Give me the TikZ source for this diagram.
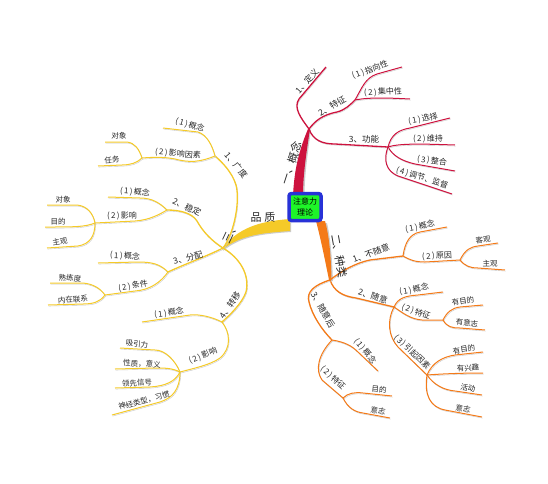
\documentclass[tikz,border=0pt]{standalone}
\usepackage{fontspec}
\setmainfont{Noto Sans CJK SC}
\usetikzlibrary{calc}
\definecolor{rc}{RGB}{205,18,62}
\definecolor{oc}{RGB}{244,122,24}
\definecolor{yc}{RGB}{245,202,40}
\definecolor{boxg}{RGB}{30,245,40}
\definecolor{boxb}{RGB}{40,50,215}
\newcommand{\pn}[1]{(\,#1\,)\,}
\begin{document}
\begin{tikzpicture}[x=1pt,y=-1pt,
  shd/.style={preaction={draw=black!22,transform canvas={shift={(0.7pt,-1.1pt)}}}},
  rb/.style={draw=rc,line width=1.3pt,shd},
  rl/.style={draw=rc,line width=1pt,shd},
  ob/.style={draw=oc,line width=1.3pt,shd},
  ol/.style={draw=oc,line width=1pt,shd},
  yb/.style={draw=yc,line width=1.3pt,shd},
  yl/.style={draw=yc,line width=1pt,shd},
  lab/.style={inner sep=0pt,text=black!85},
  l1/.style={lab,font=\fontsize{11}{12}\selectfont},
  l2/.style={lab,font=\fontsize{8.5}{9}\selectfont},
  l3/.style={lab,font=\fontsize{8}{9}\selectfont},
  l4/.style={lab,font=\fontsize{7.5}{8}\selectfont}]
\useasboundingbox[fill=white] (0,0) rectangle (548,483);

% ---------- coordinates ----------
\coordinate (R0) at (309,129);
\coordinate (r1) at (326,67);
\coordinate (R2) at (355,100);
\coordinate (r21) at (402,67);
\coordinate (r22) at (410,99);
\coordinate (R3) at (388,147);
\coordinate (r31) at (450,118);
\coordinate (r32) at (455,145);
\coordinate (r33) at (455,171);
\coordinate (r34) at (452,194);

\coordinate (O0) at (330,280);
\coordinate (O1) at (403,256);
\coordinate (o11) at (447,227);
\coordinate (O12) at (460,260);
\coordinate (o121) at (498,243);
\coordinate (o122) at (505,270);
\coordinate (O2) at (394,307);
\coordinate (o21) at (443,292);
\coordinate (O22) at (443,320);
\coordinate (o221) at (483,305);
\coordinate (o222) at (485,330);
\coordinate (O23) at (427,375);
\coordinate (o231) at (483,352);
\coordinate (o232) at (483,373);
\coordinate (o233) at (482,395);
\coordinate (o234) at (482,417);
\coordinate (O3) at (332,340);
\coordinate (o31) at (378,371);
\coordinate (O32) at (343,398);
\coordinate (o321) at (392,396);
\coordinate (o322) at (390,418);

\coordinate (Y0) at (223,248);
\coordinate (Y1) at (215,156);
\coordinate (y11) at (163,128);
\coordinate (Y12) at (142,158);
\coordinate (y121) at (105,142);
\coordinate (y122) at (98,166);
\coordinate (Y2) at (167,210);
\coordinate (y21) at (108,197);
\coordinate (Y22) at (95,223);
\coordinate (y221) at (47,205);
\coordinate (y222) at (45,227);
\coordinate (y223) at (47,248);
\coordinate (Y3) at (168,272);
\coordinate (y31) at (98,263);
\coordinate (Y32) at (105,295);
\coordinate (y321) at (50,283);
\coordinate (y322) at (48,305);
\coordinate (Y4) at (222,322);
\coordinate (y41) at (142,322);
\coordinate (Y42) at (180,372);
\coordinate (y421) at (120,348);
\coordinate (y422) at (115,369);
\coordinate (y423) at (115,388);
\coordinate (y424) at (112,415);

% ---------- thick stems ----------
\fill[black!20] (294.5,197) .. controls (295.5,175) and (298.5,155) .. ($(R0)+(0,1)$) -- ($(R0)+(2,1)$) .. controls (307.5,155) and (304.5,175) .. (304.5,197) -- cycle;
\fill[rc] (293,196) .. controls (294,175) and (297,155) .. ($(R0)+(-1,0)$) -- ($(R0)+(1,0)$) .. controls (306,155) and (303,175) .. (303,196) -- cycle;
\fill[black!20] (318,223) .. controls (322,240) and (326,260) .. ($(O0)+(0,1)$) -- ($(O0)+(3,1)$) .. controls (332,255) and (330,235) .. (327,223) -- cycle;
\fill[oc] (316,221) .. controls (321,240) and (325,260) .. ($(O0)+(-1,0)$) -- ($(O0)+(1.5,0)$) .. controls (331,255) and (329,235) .. (325,221) -- cycle;
\fill[black!20] (291,220) .. controls (266,222) and (243,226) .. ($(Y0)+(2,-1)$) -- ($(Y0)+(0,3)$) .. controls (241,236) and (263,234) .. (291,232) -- cycle;
\fill[yc] (290,219) .. controls (265,221) and (242,225) .. ($(Y0)+(1,-2)$) -- ($(Y0)+(-1,2)$) .. controls (240,235) and (262,233) .. (290,231) -- cycle;

% ---------- red branches ----------
\draw[rb] (R0) .. controls (301,118) and (293,108) .. (299,99) -- (r1);
\draw[rb] (R0) .. controls (315,121) and (322,115) .. (337,112) .. controls (345,110) and (350,105) .. (R2);
\draw[rl] (R2) .. controls (362,88) and (365,78) .. (377,74) -- (r21);
\draw[rl] (R2) .. controls (370,97) and (390,98) .. (r22);
\draw[rb] (R0) .. controls (313,140) and (322,144) .. (335,144) -- (R3);
\draw[rl] (R3) .. controls (391,135) and (398,130) .. (410,128) -- (r31);
\draw[rl] (R3) .. controls (400,143) and (425,144) .. (r32);
\draw[rl] (R3) .. controls (393,156) and (402,161) .. (415,164) -- (r33);
\draw[rl] (R3) .. controls (383,160) and (386,171) .. (398,176) -- (r34);

% ---------- orange branches ----------
\draw[ob] (O0) .. controls (340,272) and (355,263) .. (370,260) -- (O1);
\draw[ol] (O1) .. controls (405,242) and (410,234) .. (420,232) -- (o11);
\draw[ol] (O1) .. controls (410,260) and (415,262) .. (425,262) -- (O12);
\draw[ol] (O12) .. controls (465,250) and (470,247) .. (478,246) -- (o121);
\draw[ol] (O12) .. controls (465,266) and (470,268) .. (478,268) -- (o122);
\draw[ob] (O0) .. controls (334,291) and (342,296) .. (356,298) -- (O2);
\draw[ol] (O2) .. controls (398,298) and (405,296) .. (418,295) -- (o21);
\draw[ol] (O2) .. controls (403,313) and (410,319) .. (422,320) -- (O22);
\draw[ol] (O22) .. controls (447,312) and (452,308) .. (460,307) -- (o221);
\draw[ol] (O22) .. controls (447,327) and (452,328) .. (460,328) -- (o222);
\draw[ol] (O2) .. controls (387,320) and (388,336) .. (398,347) -- (O23);
\draw[ol] (O23) .. controls (432,363) and (442,357) .. (455,355) -- (o231);
\draw[ol] (O23) .. controls (440,374) and (460,373) .. (o232);
\draw[ol] (O23) .. controls (434,385) and (444,390) .. (455,391) -- (o233);
\draw[ol] (O23) .. controls (424,395) and (430,407) .. (445,410) -- (o234);
\draw[ob] (O0) .. controls (314,285) and (306,292) .. (309,302) .. controls (312,315) and (322,330) .. (O3);
\draw[ol] (O3) .. controls (345,342) and (352,346) .. (358,352) -- (o31);
\draw[ol] (O3) .. controls (318,355) and (315,370) .. (322,380) -- (O32);
\draw[ol] (O32) .. controls (348,393) and (355,392) .. (363,393) -- (o321);
\draw[ol] (O32) .. controls (348,408) and (355,412) .. (363,413) -- (o322);

% ---------- yellow branches ----------
\draw[yb] (Y0) .. controls (235,232) and (240,200) .. (236,185) .. controls (232,172) and (222,162) .. (Y1);
\draw[yl] (Y1) .. controls (212,145) and (207,135) .. (198,132) -- (y11);
\draw[yl] (Y1) .. controls (200,162) and (190,163) .. (175,159) .. controls (165,157) and (155,157) .. (Y12);
\draw[yl] (Y12) .. controls (139,149) and (135,143) .. (127,142) -- (y121);
\draw[yl] (Y12) .. controls (137,163) and (130,165) .. (122,165) -- (y122);
\draw[yb] (Y0) .. controls (212,241) and (203,232) .. (197,221) .. controls (192,213) and (180,210) .. (Y2);
\draw[yl] (Y2) .. controls (160,203) and (152,198) .. (140,198) -- (y21);
\draw[yl] (Y2) .. controls (160,214) and (150,220) .. (135,221) -- (Y22);
\draw[yl] (Y22) .. controls (93,213) and (87,206) .. (77,205) -- (y221);
\draw[yl] (Y22) .. controls (85,227) and (75,227) .. (y222);
\draw[yl] (Y22) .. controls (95,236) and (90,244) .. (78,246) -- (y223);
\draw[yb] (Y0) .. controls (205,257) and (185,264) .. (Y3);
\draw[yl] (Y3) .. controls (160,264) and (152,262) .. (138,262) -- (y31);
\draw[yl] (Y3) .. controls (161,282) and (150,290) .. (135,291) -- (Y32);
\draw[yl] (Y32) .. controls (100,288) and (93,284) .. (83,283) -- (y321);
\draw[yl] (Y32) .. controls (100,302) and (93,304) .. (83,304) -- (y322);
\draw[yb] (Y0) .. controls (240,258) and (250,275) .. (246,292) .. controls (242,303) and (232,313) .. (Y4);
\draw[yl] (Y4) .. controls (212,317) and (200,314) .. (190,315) -- (y41);
\draw[yl] (Y4) .. controls (230,332) and (232,348) .. (220,358) .. controls (210,365) and (195,368) .. (Y42);
\draw[yl] (Y42) .. controls (175,360) and (165,350) .. (155,350) -- (y421);
\draw[yl] (Y42) .. controls (172,368) and (165,368) .. (155,368) -- (y422);
\draw[yl] (Y42) .. controls (175,382) and (165,386) .. (150,387) -- (y423);
\draw[yl] (Y42) .. controls (180,390) and (172,398) .. (160,402) -- (y424);

% ---------- centre ----------
\node[draw=boxb,line width=3.5pt,fill=boxg,rounded corners=2.5pt,minimum width=32pt,minimum height=27pt,
      align=center,inner sep=0pt,font=\fontsize{8}{11}\selectfont] (C) at (305,207) {注意力\\理论};

% ---------- labels: red ----------
\node[l1,rotate=72] (tA) at (291,163) {一、概念};
\node[l2,rotate=48] (t1) at (307,81) {1、定义};
\node[l2,rotate=30] (t2) at (332,106) {2、特征};
\node[l3,rotate=20] (t21) at (370,70) {\pn{1}指向性};
\node[l3,rotate=3] (t22) at (383,92) {\pn{2}集中性};
\node[l2] (t3) at (364,139) {3、功能};
\node[l3,rotate=12] (t31) at (423,119) {\pn{1}选择};
\node[l3] (t32) at (428,138.5) {\pn{2}维持};
\node[l3,rotate=-7] (t33) at (432,161) {\pn{3}整合};
\node[l3,rotate=-17] (t34) at (422,178) {\pn{4}调节、监督};

% ---------- labels: orange ----------
\node[l1,rotate=-80] (tB) at (339,256) {二、种类};
\node[l2,rotate=21] (t4) at (371,253) {1、不随意};
\node[l3,rotate=12] (t41) at (420,226.5) {\pn{1}概念};
\node[l3,rotate=3] (t42) at (437,256) {\pn{2}原因};
\node[l4,rotate=5] (t421) at (483,240) {客观};
\node[l4] (t422) at (490,264) {主观};
\node[l2,rotate=-17] (t5) at (373,296) {2、随意};
\node[l3,rotate=11] (t51) at (414,289.5) {\pn{1}概念};
\node[l3,rotate=-19] (t52) at (416,312) {\pn{2}特征};
\node[l4,rotate=10] (t521) at (463,301) {有目的};
\node[l4,rotate=-5] (t522) at (467,323) {有意志};
\node[l3,rotate=-43] (t53) at (412,352) {\pn{3}引起因素};
\node[l4,rotate=10] (t531) at (464,349.5) {有目的};
\node[l4,rotate=5] (t532) at (468,368) {有兴趣};
\node[l4,rotate=-12] (t533) at (468,388) {活动};
\node[l4,rotate=-10] (t534) at (463,408.5) {意志};
\node[l2,rotate=-60] (t6) at (323,310) {3、随意后};
\node[l3,rotate=-51] (t61) at (365,351) {\pn{1}概念};
\node[l3,rotate=-42] (t62) at (333,378) {\pn{2}特征};
\node[l4,rotate=-5] (t621) at (379,389.5) {目的};
\node[l4,rotate=-10] (t622) at (378,410.5) {意志};

% ---------- labels: yellow ----------
\node[l1,rotate=65] (tC1) at (231,233) {三、};
\node[l1] (tC2) at (263,217) {品\hspace{3pt}质};
\node[l2,rotate=-50] (t7) at (236,165) {1、广度};
\node[l3,rotate=-16] (t71) at (190,125) {\pn{1}概念};
\node[l3,rotate=-5] (t72) at (178,154) {\pn{2}影响因素};
\node[l4,rotate=-3] (t721) at (119,136) {对象};
\node[l4,rotate=3] (t722) at (112,160) {任务};
\node[l2,rotate=-25] (t8) at (187,207) {2、稳定};
\node[l3,rotate=-5] (t81) at (135,192) {\pn{1}概念};
\node[l3] (t82) at (122,216) {\pn{2}影响};
\node[l4] (t821) at (63,200) {对象};
\node[l4] (t822) at (58,221.5) {目的};
\node[l4,rotate=8] (t823) at (60,242) {主观};
\node[l2,rotate=15] (t9) at (188,258) {3、分配};
\node[l3,rotate=-3] (t91) at (125,256) {\pn{1}概念};
\node[l3,rotate=10] (t92) at (133,286) {\pn{2}条件};
\node[l4,rotate=-3] (t921) at (70,278) {熟练度};
\node[l4,rotate=3] (t922) at (73,299.5) {内在联系};
\node[l2,rotate=55] (t10) at (230,305) {4、转移};
\node[l3,rotate=8] (t101) at (169,313) {\pn{1}概念};
\node[l3,rotate=22] (t102) at (203,356) {\pn{2}影响};
\node[l4,rotate=-5] (t1021) at (137,344) {吸引力};
\node[l4,rotate=-3] (t1022) at (142,364) {性质，意义};
\node[l4,rotate=3] (t1023) at (137,383) {领先信号};
\node[l4,rotate=15] (t1024) at (144,400.5) {神经类型，习惯};
\end{tikzpicture}
\end{document}
